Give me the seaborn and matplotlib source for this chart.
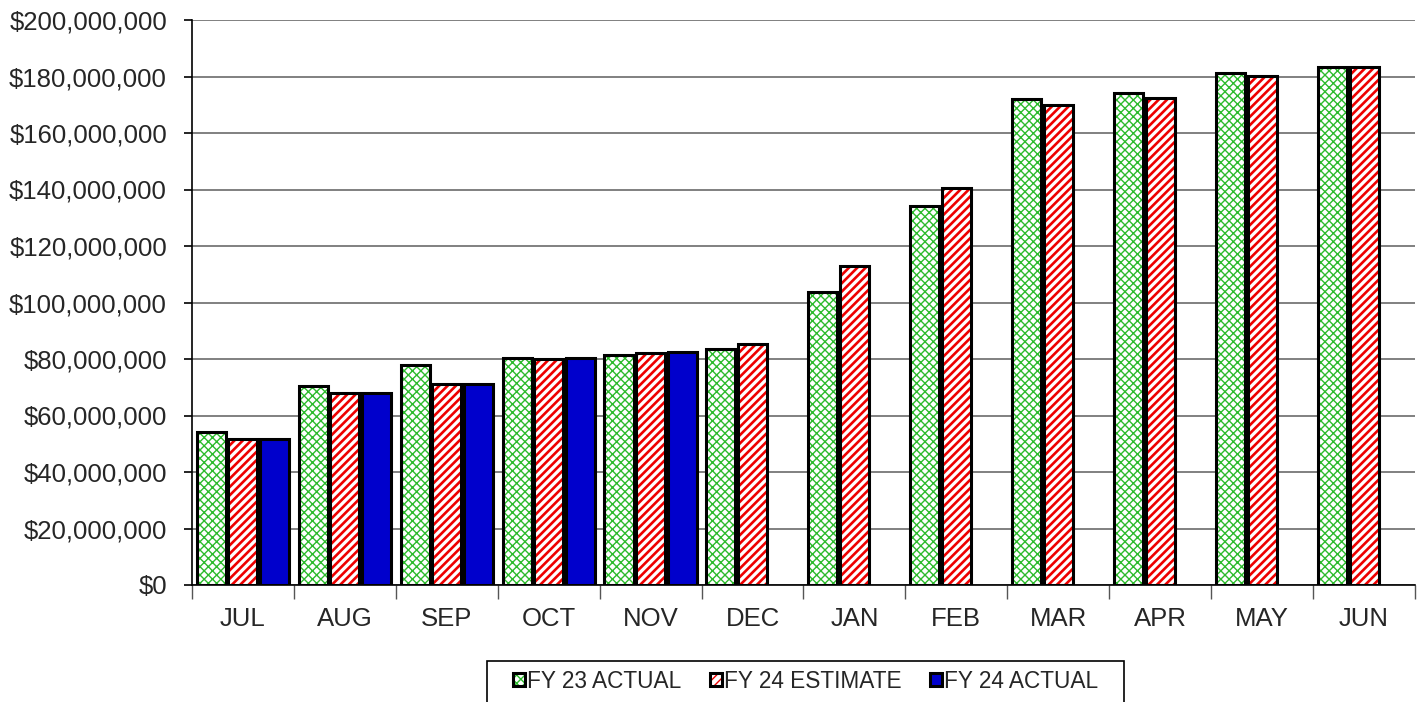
import matplotlib
matplotlib.use("Agg")
import matplotlib.pyplot as plt
import matplotlib.colors as mcolors
from matplotlib.patches import Rectangle
from matplotlib.ticker import FuncFormatter, FixedLocator, MultipleLocator
import seaborn as sns
import pandas as pd

months = ["JUL", "AUG", "SEP", "OCT", "NOV", "DEC", "JAN", "FEB", "MAR", "APR", "MAY", "JUN"]
fy23_actual = [54.2, 70.6, 77.9, 80.2, 81.4, 83.6, 103.7, 134.1, 172.0, 174.3, 181.2, 183.2]
fy24_estimate = [51.8, 67.8, 71.0, 80.0, 82.2, 85.2, 113.0, 140.7, 169.9, 172.5, 180.3, 183.3]
fy24_actual = [51.8, 67.8, 71.0, 80.2, 82.5]
series_names = ["FY 23 ACTUAL", "FY 24 ESTIMATE", "FY 24 ACTUAL"]

rows = []
for m, v in zip(months, fy23_actual):
    rows.append((m, series_names[0], v * 1e6))
for m, v in zip(months, fy24_estimate):
    rows.append((m, series_names[1], v * 1e6))
for m, v in zip(months, fy24_actual):
    rows.append((m, series_names[2], v * 1e6))
df = pd.DataFrame(rows, columns=["month", "series", "value"])

sns.set_style("white")
plt.rcParams["font.family"] = ["Liberation Sans", "DejaVu Sans"]
plt.rcParams["hatch.linewidth"] = 1.0

fig = plt.figure(figsize=(14.2, 7.02), dpi=100)
ax = fig.add_axes([192 / 1420, 117 / 702, 1223 / 1420, 565 / 702])

palette = {series_names[0]: "white", series_names[1]: "white", series_names[2]: "#0000CC"}
sns.barplot(data=df, x="month", y="value", hue="series", order=months,
            hue_order=series_names, palette=palette, width=0.93, gap=0.08,
            saturation=1, edgecolor="black", linewidth=2.2, legend=False, ax=ax)

hatch_specs = [("xxxx", "#2DBB2D", 1.0), ("////", "#EE0000", 1.9), (None, None, None)]
for cont, (h, hc, hl) in zip(ax.containers, hatch_specs):
    for p in cont.patches:
        p.set_edgecolor("black")
        if h is not None:
            p.set_hatch(h)
            p._hatch_color = mcolors.to_rgba(hc)
            try:
                p.set_hatch_linewidth(hl)
            except Exception:
                p._hatch_linewidth = hl

ax.set_ylim(0, 200e6)
ax.set_xlim(-0.5, len(months) - 0.5)
ax.yaxis.set_major_locator(MultipleLocator(20e6))
ax.yaxis.set_major_formatter(FuncFormatter(lambda v, pos: "${:,.0f}".format(v)))
ax.yaxis.grid(True, color="#808080", linewidth=1.4)
ax.set_axisbelow(True)
ax.set_xlabel("")
ax.set_ylabel("")

for s in ["top", "right"]:
    ax.spines[s].set_visible(False)
for s in ["left", "bottom"]:
    ax.spines[s].set_color("black")
    ax.spines[s].set_linewidth(1.2)

ax.tick_params(axis="y", which="major", direction="out", length=6, width=1.2,
               color="black", labelsize=18.5, pad=12, left=True)
ax.tick_params(axis="x", which="major", length=0, labelsize=18.5, pad=16)
ax.xaxis.set_minor_locator(FixedLocator([i + 0.5 for i in range(-1, len(months))]))
ax.tick_params(axis="x", which="minor", direction="out", length=10, width=1.0,
               color="#555555", bottom=True)

leg = ax.legend(ax.containers, series_names, loc="center left",
                bbox_to_anchor=(513 / 1420, 1 - 681 / 702), bbox_transform=fig.transFigure,
                ncol=3, fontsize=16.3, frameon=False,
                handlelength=0.53, handleheight=0.53, handletextpad=0.1,
                columnspacing=1.24, borderpad=0, borderaxespad=0)

fig.add_artist(Rectangle((487 / 1420, -0.05), (1124 - 487) / 1420, 0.05 + 1 - 661 / 702,
                         transform=fig.transFigure, fill=False, edgecolor="black",
                         linewidth=1.2))

fig.savefig("out.png", dpi=100)
